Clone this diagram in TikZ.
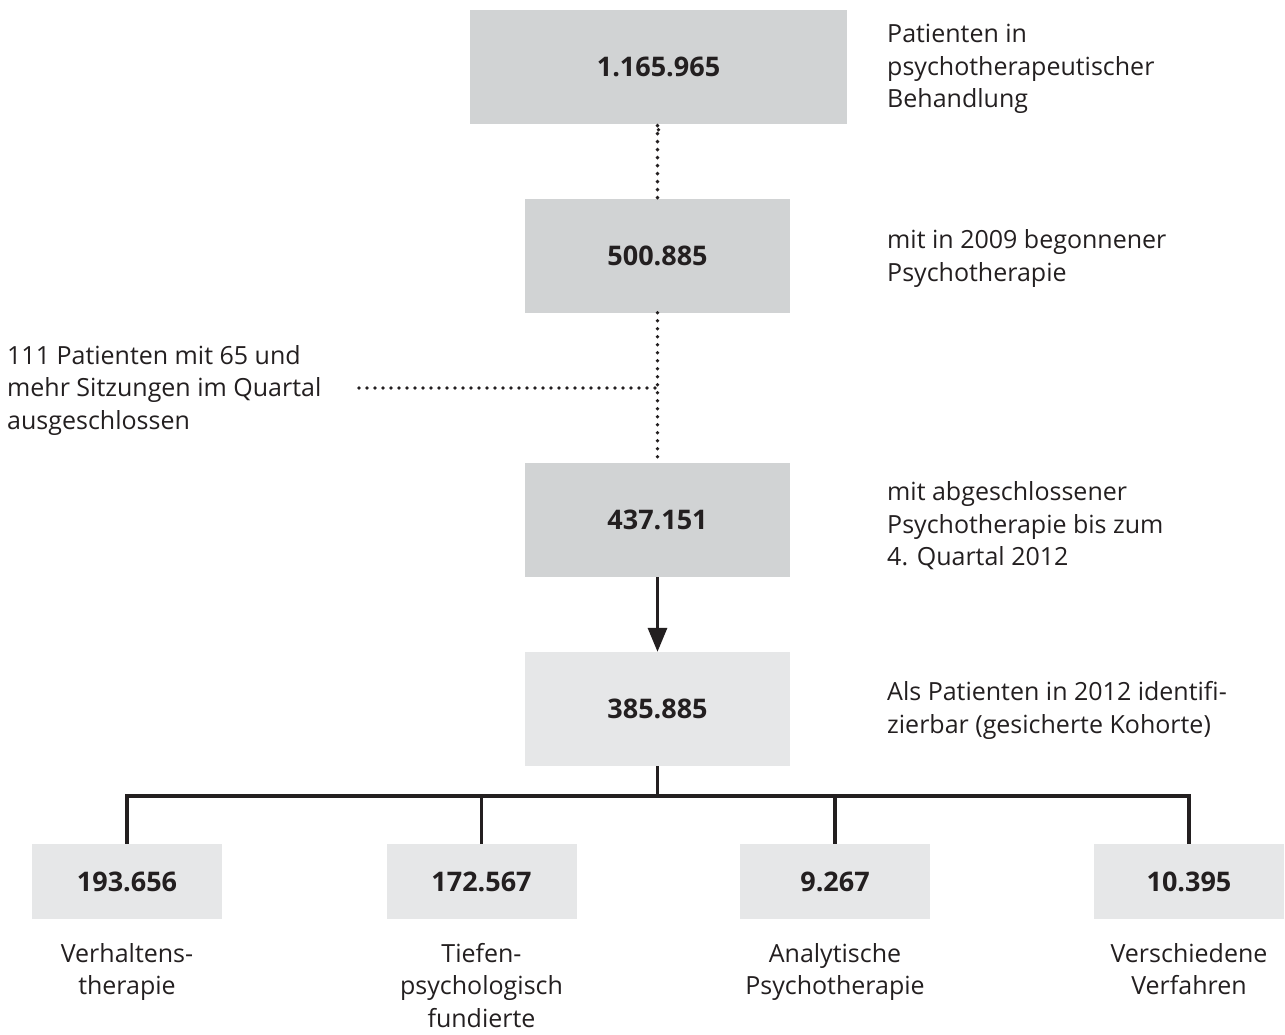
\documentclass[tikz,border=0pt]{standalone}
\usepackage{fontspec}
\setmainfont{Open Sans}
\usetikzlibrary{arrows.meta,calc}
\definecolor{boxdark}{HTML}{D1D3D4}
\definecolor{boxlight}{HTML}{E6E7E8}
\definecolor{ink}{HTML}{231F20}
\begin{document}
\begin{tikzpicture}[x=1pt,y=-1pt,
  every node/.style={text=ink},
  numbox/.style={inner sep=0pt, font=\fontsize{27}{30}\selectfont\bfseries},
  darkbox/.style={numbox, fill=boxdark, minimum width=265pt, minimum height=114pt},
  lightbox/.style={numbox, fill=boxlight, minimum width=265pt, minimum height=114pt},
  smallbox/.style={numbox, fill=boxlight, minimum width=190pt, minimum height=75pt},
  lbl/.style={inner sep=0pt, font=\fontsize{25}{32.5}\selectfont},
  rlbl/.style={lbl, align=left, anchor=west},
  blbl/.style={lbl, align=center, anchor=north},
  dotline/.style={draw=ink, line width=3.8pt, line cap=round, dash pattern=on 0pt off 8pt},
  solidline/.style={draw=ink, line width=3.2pt},
]
\useasboundingbox (0,0) rectangle (1285,1034);
% boxes
\node[darkbox, minimum width=377pt] (b1) at (658.5,66.5) {1.165.965};
\node[darkbox] (b2) at (657.5,255.5) {500.885};
\node[darkbox] (b3) at (657.5,520) {437.151};
\node[lightbox] (b4) at (657.5,709) {385.885};
\node[smallbox] (b5) at (127,881.5) {193.656};
\node[smallbox] (b6) at (481.5,881.5) {172.567};
\node[smallbox] (b7) at (835,881.5) {9.267};
\node[smallbox] (b8) at (1189,881.5) {10.395};
% right labels
\node[rlbl] (t1) at (887,69) {Patienten in\\psychotherapeutischer\\Behandlung};
\node[rlbl] (t2) at (887,258.5) {mit in 2009 begonnener\\Psychotherapie};
\node[rlbl] (t3) at (887,526) {mit abgeschlossener\\Psychotherapie bis zum\\4. Quartal 2012};
\node[rlbl] (t4) at (887,710.5) {Als Patienten in 2012 identifi-\\zierbar (gesicherte Kohorte)};
\node[rlbl] (tl) at (7,390) {111 Patienten mit 65 und\\mehr Sitzungen im Quartal\\ausgeschlossen};
% bottom labels
\node[blbl] (l5) at (127,943) {Verhaltens-\\therapie};
\node[blbl] (l6) at (481.5,943) {Tiefen-\\psychologisch\\fundierte};
\node[blbl] (l7) at (835,943) {Analytische\\Psychotherapie};
\node[blbl] (l8) at (1189,943) {Verschiedene\\Verfahren};
% connectors
\coordinate (junc) at (658,388);
\coordinate (xstart) at (359,388);
\path[dotline] ($(b1.south)+(0,6)$) -- (b1.south -| b2.north) -- (b2.north);
\path[dotline] (b2.south) -- (b3.north);
\path[dotline] (xstart) -- (junc);
\draw[solidline, -{Triangle[length=24pt,width=19pt]}] (b3.south) -- (b4.north);
\coordinate (bus) at (657.5,796);
\draw[solidline] (b4.south) -- (bus);
\draw[solidline, line join=miter] (b5.north) -- (b5.north |- bus) -- (b8.north |- bus) -- (b8.north);
\draw[solidline] (b6.north |- bus) -- (b6.north);
\draw[solidline] (b7.north |- bus) -- (b7.north);
\end{tikzpicture}
\end{document}
